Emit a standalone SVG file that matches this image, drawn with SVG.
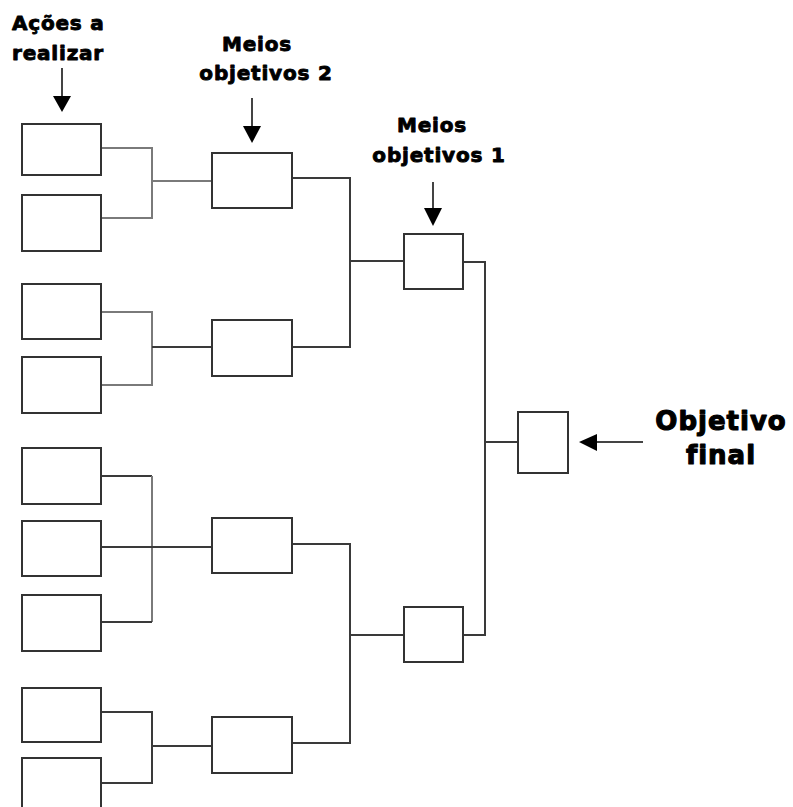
<svg xmlns="http://www.w3.org/2000/svg" width="793" height="807" viewBox="0 0 793 807">
<style>
.box{fill:#fff;stroke:#333;stroke-width:2}
.ln{fill:none;stroke:#3a3a3a;stroke-width:2}
.gr{fill:none;stroke:#7a7a7a;stroke-width:2}
.stem{stroke:#444;stroke-width:2}
.head{fill:#000}
.lbl{font-family:"DejaVu Sans","Liberation Sans",sans-serif;font-weight:bold;font-size:20px;letter-spacing:0.8px;fill:#000;stroke:#000;stroke-width:0.9px;stroke-linejoin:round}
.big{font-family:"DejaVu Sans","Liberation Sans",sans-serif;font-weight:bold;font-size:26px;letter-spacing:1px;fill:#000;stroke:#000;stroke-width:1.1px;stroke-linejoin:round;text-anchor:middle}
</style>
<rect width="793" height="807" fill="#fff"/>
<g id="connectors">
<polyline class="gr" points="101,148 152,148 152,218 101,218"/>
<line class="gr" x1="152" y1="181" x2="212" y2="181"/>
<polyline class="gr" points="101,312 152,312 152,385 101,385"/>
<line class="ln" x1="152" y1="347" x2="212" y2="347"/>
<line class="ln" x1="101" y1="476" x2="152" y2="476"/>
<line class="gr" x1="152" y1="476" x2="152" y2="622"/>
<line class="ln" x1="101" y1="622" x2="152" y2="622"/>
<line class="ln" x1="101" y1="547" x2="212" y2="547"/>
<polyline class="ln" points="101,712 152,712 152,783 101,783"/>
<line class="ln" x1="152" y1="746" x2="212" y2="746"/>
<polyline class="ln" points="292,178 350,178 350,347 292,347"/>
<line class="ln" x1="350" y1="261" x2="404" y2="261"/>
<polyline class="ln" points="292,544 350,544 350,743 292,743"/>
<line class="ln" x1="350" y1="635" x2="404" y2="635"/>
<polyline class="ln" points="463,262 485,262 485,635 463,635"/>
<line class="ln" x1="485" y1="442" x2="518" y2="442"/>
</g>
<g id="a1"><rect class="box" x="22" y="124" width="79" height="51"/></g>
<g id="a2"><rect class="box" x="22" y="195" width="79" height="56"/></g>
<g id="a3"><rect class="box" x="22" y="284" width="79" height="55"/></g>
<g id="a4"><rect class="box" x="22" y="357" width="79" height="56"/></g>
<g id="a5"><rect class="box" x="22" y="448" width="79" height="56"/></g>
<g id="a6"><rect class="box" x="22" y="521" width="79" height="55"/></g>
<g id="a7"><rect class="box" x="22" y="595" width="79" height="56"/></g>
<g id="a8"><rect class="box" x="22" y="688" width="79" height="54"/></g>
<g id="a9"><rect class="box" x="22" y="758" width="79" height="60"/></g>
<g id="m2a"><rect class="box" x="212" y="153" width="80" height="55"/></g>
<g id="m2b"><rect class="box" x="212" y="320" width="80" height="56"/></g>
<g id="m2c"><rect class="box" x="212" y="518" width="80" height="55"/></g>
<g id="m2d"><rect class="box" x="212" y="717" width="80" height="56"/></g>
<g id="m1a"><rect class="box" x="404" y="234" width="59" height="55"/></g>
<g id="m1b"><rect class="box" x="404" y="607" width="59" height="55"/></g>
<g id="final"><rect class="box" x="518" y="412" width="50" height="61"/></g>
<g id="label-acoes">
<text class="lbl" x="12" y="30">Ações a</text>
<text class="lbl" x="12" y="60">realizar</text>
<line class="stem" x1="62" y1="68" x2="62" y2="97"/>
<polygon class="head" points="53,96 71,96 62,112"/>
</g>
<g id="label-meios2">
<text class="lbl" x="257" y="51" text-anchor="middle">Meios</text>
<text class="lbl" x="266" y="80" text-anchor="middle">objetivos 2</text>
<line class="stem" x1="252" y1="98" x2="252" y2="127"/>
<polygon class="head" points="243,126 261,126 252,143"/>
</g>
<g id="label-meios1">
<text class="lbl" x="432" y="132" text-anchor="middle">Meios</text>
<text class="lbl" x="439" y="162" text-anchor="middle">objetivos 1</text>
<line class="stem" x1="433" y1="182" x2="433" y2="209"/>
<polygon class="head" points="424,208 442,208 433,226"/>
</g>
<g id="label-final">
<text class="big" x="721" y="430">Objetivo</text>
<text class="big" x="721" y="464">final</text>
<line class="stem" x1="596" y1="442" x2="643" y2="442"/>
<polygon class="head" points="597,434 597,451 579,442"/>
</g>
</svg>
